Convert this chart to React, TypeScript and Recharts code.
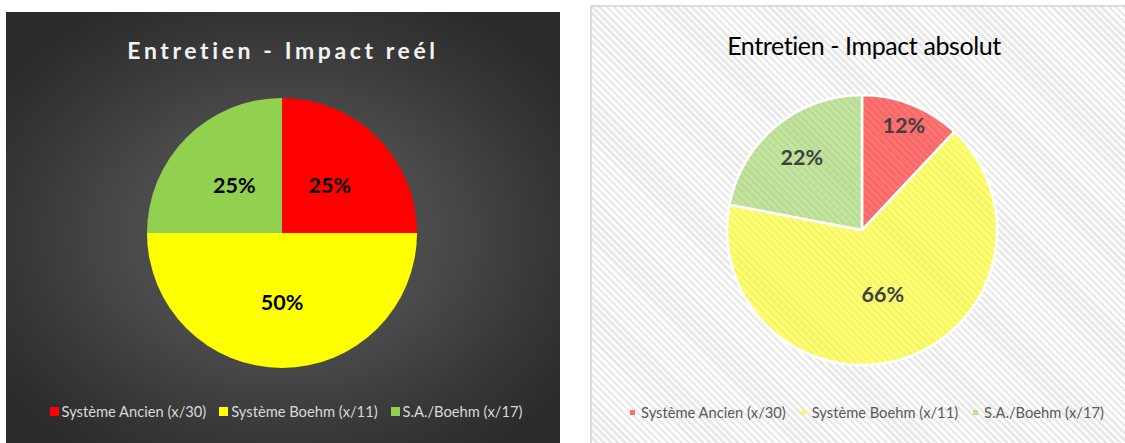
import React from 'react';
import { PieChart, Pie, Cell, Legend } from 'recharts';

const categories = ['Système Ancien (x/30)', 'Système Boehm (x/11)', 'S.A./Boehm (x/17)'];
const reelValues = [25, 50, 25];
const absoluValues = [12, 66, 22];
const sliceColors = ['#ff0000', '#ffff00', '#92d050'];
const titleReel = 'Entretien - Impact reél';
const titleAbsolu = 'Entretien - Impact absolut';

const reelData = categories.map((name, i) => ({ name, value: reelValues[i] }));
const absoluData = categories.map((name, i) => ({ name, value: absoluValues[i] }));

const RAD = Math.PI / 180;
const FONT = 'Lato, "Noto Sans", sans-serif';

const makeLabel = (radiusFactors: number[], color: string) => (props: any) => {
  const { cx, cy, midAngle, outerRadius, percent, index } = props;
  const r = outerRadius * radiusFactors[index];
  const x = cx + r * Math.cos(-midAngle * RAD);
  const y = cy + r * Math.sin(-midAngle * RAD);
  return (
    <text
      x={x}
      y={y}
      fill={color}
      textAnchor="middle"
      dominantBaseline="central"
      style={{ fontFamily: FONT, fontWeight: 700, fontSize: 21.5 }}
    >
      {`${Math.round(percent * 100)}%`}
    </text>
  );
};

const makeLegend = (textColor: string, iconSize: number, iconGap: number, itemGap: number, iconOpacity: number) => (props: any) => {
  const payload = [...(props.payload || [])].sort(
    (a: any, b: any) => categories.indexOf(a.value) - categories.indexOf(b.value)
  );
  return (
    <div style={{ display: 'flex', justifyContent: 'center', alignItems: 'center', fontFamily: FONT, fontSize: 14.7, color: textColor }}>
      {payload.map((entry: any, i: number) => (
        <div key={i} style={{ display: 'flex', alignItems: 'center', marginRight: i < payload.length - 1 ? itemGap : 0 }}>
          <span style={{ display: 'inline-block', width: iconSize, height: iconSize, background: entry.color, opacity: iconOpacity, marginRight: iconGap }} />
          <span>{entry.value}</span>
        </div>
      ))}
    </div>
  );
};

export default function App() {
  return (
    <div style={{ position: 'absolute', left: 0, top: 0, width: 1125, height: 443, background: '#ffffff', overflow: 'hidden' }}>
      {/* Left chart */}
      <div
        style={{
          position: 'absolute',
          left: 6,
          top: 12,
          width: 554,
          height: 431,
          background: 'radial-gradient(ellipse 62% 62% at 50% 52%, #555555 0%, #4a4a4a 45%, #353535 80%, #2b2b2b 100%)',
        }}
      >
        <div
          style={{
            position: 'absolute',
            left: 0,
            top: 24,
            width: 554,
            textAlign: 'center',
            fontFamily: FONT,
            fontWeight: 700,
            fontSize: 23,
            letterSpacing: 3.6,
            color: '#f2f2f2',
          }}
        >
          {titleReel}
        </div>
        <PieChart width={554} height={431} style={{ position: 'absolute', left: 0, top: 0 }}>
          <Pie
            data={reelData}
            dataKey="value"
            nameKey="name"
            cx={271}
            cy={216}
            outerRadius={135}
            startAngle={90}
            endAngle={-270}
            stroke="none"
            isAnimationActive={false}
            labelLine={false}
            label={makeLabel([0.5, 0.51, 0.5], '#000000')}
          >
            {reelData.map((d, i) => (
              <Cell key={d.name} fill={sliceColors[i]} />
            ))}
          </Pie>
          <Legend
            content={makeLegend('#d9d9d9', 9, 3, 13, 1)}
            wrapperStyle={{ position: 'absolute', left: 3, top: 390, width: 554 }}
          />
        </PieChart>
      </div>

      {/* Right chart */}
      <div
        style={{
          position: 'absolute',
          left: 590,
          top: 5,
          width: 540,
          height: 440,
          boxSizing: 'border-box',
          border: '2px solid #dcdcdc',
          background: 'repeating-linear-gradient(45deg, #ffffff 0px, #ffffff 2.5px, #e9e9e9 2.5px, #e9e9e9 5px)',
        }}
      >
        <div
          style={{
            position: 'absolute',
            left: 0,
            top: 23,
            width: 544,
            textAlign: 'center',
            fontFamily: FONT,
            fontWeight: 400,
            fontSize: 25,
            letterSpacing: -0.4,
            color: '#000000',
          }}
        >
          {titleAbsolu}
        </div>
        <PieChart width={540} height={440} style={{ position: 'absolute', left: -2, top: -2 }}>
          <Pie
            data={absoluData}
            dataKey="value"
            nameKey="name"
            cx={267}
            cy={220}
            outerRadius={135}
            startAngle={90}
            endAngle={-270}
            stroke="#ffffff"
            strokeWidth={2.5}
            isAnimationActive={false}
            labelLine={false}
            label={makeLabel([0.84, 0.5, 0.7], '#404040')}
          >
            {absoluData.map((d, i) => (
              <Cell key={d.name} fill={sliceColors[i]} fillOpacity={0.55} />
            ))}
          </Pie>
          <Legend
            content={makeLegend('#595959', 5, 6, 15, 0.55)}
            wrapperStyle={{ position: 'absolute', left: 5, top: 398, width: 544 }}
          />
        </PieChart>
      </div>
    </div>
  );
}
